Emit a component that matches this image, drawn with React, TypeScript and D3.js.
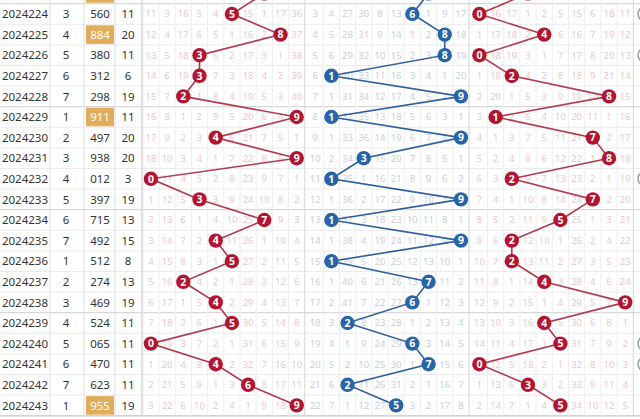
import React from 'react';
import * as d3 from 'd3';

const periods = ['2024223','2024224','2024225','2024226','2024227','2024228','2024229','2024230','2024231','2024232','2024233','2024234','2024235','2024236','2024237','2024238','2024239','2024240','2024241','2024242','2024243'];
const seqNo = [2,3,4,5,6,7,1,2,3,4,5,6,7,1,2,3,4,5,6,7,1];
const numbers = ['773','560','884','380','312','298','911','497','938','012','397','715','492','512','274','469','524','065','470','623','955'];
const sums = [17,11,20,11,6,19,11,20,20,3,19,13,15,8,13,19,11,11,11,11,19];

// omission values for rows 2024224..2024243 (0 = drawn digit)
const missHundreds = [
  [11,3,16,5,4,0,15,1,17,36],[12,4,17,6,5,1,16,2,0,37],[13,5,18,0,6,2,17,3,1,38],[14,6,19,0,7,3,18,4,2,39],
  [15,7,0,1,8,4,19,5,3,40],[16,8,1,2,9,5,20,6,4,0],[17,9,2,3,0,6,21,7,5,1],[18,10,3,4,1,7,22,8,6,0],
  [0,11,4,5,2,8,23,9,7,1],[1,12,5,0,3,9,24,10,8,2],[2,13,6,1,4,10,25,0,9,3],[3,14,7,2,0,11,26,1,10,4],
  [4,15,8,3,1,0,27,2,11,5],[5,16,0,4,2,1,28,3,12,6],[6,17,1,5,0,2,29,4,13,7],[7,18,2,6,1,0,30,5,14,8],
  [0,19,3,7,2,1,31,6,15,9],[1,20,4,8,0,2,32,7,16,10],[2,21,5,9,1,3,0,8,17,11],[3,22,6,10,2,4,1,9,18,0]
];
const missTens = [
  [3,4,27,30,8,13,0,1,9,17],[4,5,28,31,9,14,1,2,0,18],[5,6,29,32,10,15,2,3,0,19],[6,0,30,33,11,16,3,4,1,20],
  [7,1,31,34,12,17,4,5,2,0],[8,0,32,35,13,18,5,6,3,1],[9,1,33,36,14,19,6,7,4,0],[10,2,34,0,15,20,7,8,5,1],
  [11,0,35,1,16,21,8,9,6,2],[12,1,36,2,17,22,9,10,7,0],[13,0,37,3,18,23,10,11,8,1],[14,1,38,4,19,24,11,12,9,0],
  [15,0,39,5,20,25,12,13,10,1],[16,1,40,6,21,26,13,0,11,2],[17,2,41,7,22,27,0,1,12,3],[18,3,0,8,23,28,1,2,13,4],
  [19,4,1,9,24,29,0,3,14,5],[20,5,2,10,25,30,1,0,15,6],[21,6,0,11,26,31,2,1,16,7],[22,7,1,12,27,0,3,2,17,8]
];
const missUnits = [
  [0,16,17,1,2,5,15,6,18,11],[1,17,18,2,0,6,16,7,19,12],[0,18,19,3,1,7,17,8,20,13],[1,19,0,4,2,8,18,9,21,14],
  [2,20,1,5,3,9,19,10,0,15],[3,0,2,6,4,10,20,11,1,16],[4,1,3,7,5,11,21,0,2,17],[5,2,4,8,6,12,22,1,0,18],
  [6,3,0,9,7,13,23,2,1,19],[7,4,1,10,8,14,24,0,2,20],[8,5,2,11,9,0,25,1,3,21],[9,6,0,12,10,1,26,2,4,22],
  [10,7,0,13,11,2,27,3,5,23],[11,8,1,14,0,3,28,4,6,24],[12,9,2,15,1,4,29,5,7,0],[13,10,3,16,0,5,30,6,8,1],
  [14,11,4,17,1,0,31,7,9,2],[0,12,5,18,2,1,32,8,10,3],[1,13,6,0,3,2,33,9,11,4],[2,14,7,1,4,0,34,10,12,5]
];
const digits = [0,1,2,3,4,5,6,7,8,9];

const W = 640, H = 419;
const FONT = "'Noto Sans', 'Noto Sans CJK SC', sans-serif";

export default function App() {
  const y = d3.scaleBand<string>().domain(periods).range([-16.9, 415.7]).padding(0);
  const bw = y.bandwidth();
  const zoneStart = [142.8, 307.05, 471.3];
  const zoneW = 162;
  const xs = zoneStart.map(s => d3.scaleBand<number>().domain(digits).range([s, s + zoneW]));
  const cx = (k: number, d: number) => (xs[k](d) as number) + xs[k].bandwidth() / 2;
  const cy = (p: string) => (y(p) as number) + bw / 2;
  const misses = [missHundreds, missTens, missUnits];
  const ballFill = ['#b31530', '#2764a8', '#b31530'];
  const lineCol = ['#b23a4d', '#2f5f9c', '#b23a4d'];
  const textCol = ['#ebc8cd', '#c7cfdb', '#ebc8cd'];
  const line = d3.line<[number, number]>().x(d => d[0]).y(d => d[1]);
  const extraX = 645;

  const isPair = (n: string) => new Set(n.split('')).size < 3;

  return (
    <svg width={W} height={H} style={{ position: 'absolute', left: 0, top: 0, background: '#fff' }} fontFamily={FONT}>
      {/* horizontal grid */}
      {periods.map((p, i) => {
        const yy = (y(p) as number) + bw;
        const strong = (i % 5) === 0;
        return <line key={'h' + p} x1={0} x2={W} y1={yy} y2={yy} stroke={strong ? '#cfcfcf' : '#ebebeb'} strokeWidth={1} />;
      })}
      {/* vertical grid in zones */}
      {xs.map((sc, k) => digits.map(d => {
        const xx = (sc(d) as number) + sc.bandwidth();
        return <line key={'v' + k + d} x1={xx} x2={xx} y1={0} y2={416} stroke={d === 9 ? '#d6d6d6' : '#eeeeee'} />;
      }))}
      {[50, 84, 115, 141.5, zoneStart[0]].map((xx, i) => (
        <line key={'lv' + i} x1={xx} x2={xx} y1={0} y2={416} stroke="#dddddd" />
      ))}
      <line x1={0} x2={W} y1={416} y2={416} stroke="#cccccc" />
      {/* left columns */}
      {periods.map((p, i) => {
        const yc = cy(p);
        const visible = yc > 0;
        return (
          <g key={'l' + p} fontSize={11.5} fill="#333">
            {isPair(numbers[i]) && <rect x={86} y={(y(p) as number) + 1} width={28} height={bw - 2} fill="#e1ad5d" />}
            {visible && <text x={25} y={yc} dy="0.36em" textAnchor="middle">{p}</text>}
            {visible && <text x={66} y={yc} dy="0.36em" textAnchor="middle">{seqNo[i]}</text>}
            {visible && <text x={100} y={yc} dy="0.36em" textAnchor="middle" fill={isPair(numbers[i]) ? '#fff' : '#333'}>{numbers[i]}</text>}
            {visible && <text x={128} y={yc} dy="0.36em" textAnchor="middle">{sums[i]}</text>}
          </g>
        );
      })}
      {/* omission numbers */}
      {misses.map((rows, k) => rows.map((vals, r) => {
        const p = periods[r + 1];
        const drawn = +numbers[r + 1][k];
        return vals.map((v, d) => d === drawn ? null : (
          <text key={'m' + k + r + d} x={cx(k, d)} y={cy(p)} dy="0.36em" textAnchor="middle" fontSize={9.5} fill={textCol[k]}>{v}</text>
        ));
      }))}
      {/* trend lines */}
      {[0, 1, 2].map(k => (
        <path key={'tl' + k} d={line(periods.map((p, i) => [cx(k, +numbers[i][k]), cy(p)])) as string} fill="none" stroke={lineCol[k]} strokeWidth={1.6} />
      ))}
      {/* balls */}
      {[0, 1, 2].map(k => periods.map((p, i) => {
        const d = +numbers[i][k];
        return (
          <g key={'b' + k + p}>
            <circle cx={cx(k, d)} cy={cy(p)} r={7.2} fill={ballFill[k]} />
            {cy(p) > 0 && <text x={cx(k, d)} y={cy(p)} dy="0.36em" textAnchor="middle" fontSize={10.5} fontWeight="bold" fill="#fff">{d}</text>}
          </g>
        );
      }))}
      {/* next column partial circles */}
      {periods.map((p, i) => numbers[i].includes('0') && i > 0 ? (
        <circle key={'z' + p} cx={extraX} cy={cy(p)} r={7} fill="#fff" stroke="#9a9a9a" strokeWidth={1.5} />
      ) : null)}
    </svg>
  );
}
